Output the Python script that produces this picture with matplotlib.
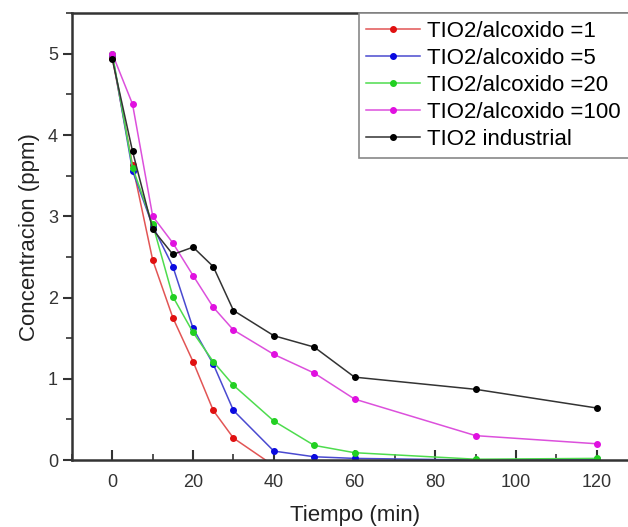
import matplotlib
matplotlib.use("Agg")
import matplotlib.pyplot as plt
import matplotlib.ticker as ticker

plt.rcParams["font.family"] = ["Liberation Sans", "DejaVu Sans"]

t_1 = [0, 5, 10, 15, 20, 25, 30, 40]
c_1 = [4.95, 3.63, 2.46, 1.75, 1.21, 0.61, 0.27, -0.07]

t_5 = [0, 5, 10, 15, 20, 25, 30, 40, 50, 60, 90, 120]
c_5 = [4.99, 3.56, 2.88, 2.38, 1.62, 1.18, 0.61, 0.11, 0.04, 0.02, 0.0, 0.01]

t_20 = [0, 5, 10, 15, 20, 25, 30, 40, 50, 60, 90, 120]
c_20 = [5.0, 3.6, 2.9, 2.01, 1.57, 1.21, 0.92, 0.48, 0.18, 0.09, 0.01, 0.02]

t_100 = [0, 5, 10, 15, 20, 25, 30, 40, 50, 60, 90, 120]
c_100 = [5.0, 4.38, 3.0, 2.67, 2.27, 1.88, 1.60, 1.30, 1.07, 0.75, 0.30, 0.20]

t_ind = [0, 5, 10, 15, 20, 25, 30, 40, 50, 60, 90, 120]
c_ind = [4.93, 3.80, 2.84, 2.53, 2.62, 2.38, 1.84, 1.53, 1.39, 1.02, 0.87, 0.64]

# (x, y, line colour, marker colour, label)
series = [
    (t_1, c_1, "#e25555", "#e01010", "TIO2/alcoxido =1"),
    (t_5, c_5, "#4a4ad0", "#0a0ae0", "TIO2/alcoxido =5"),
    (t_20, c_20, "#4edc4e", "#22d022", "TIO2/alcoxido =20"),
    (t_100, c_100, "#dc50dc", "#e010e0", "TIO2/alcoxido =100"),
    (t_ind, c_ind, "#333333", "#000000", "TIO2 industrial"),
]

fig = plt.figure(figsize=(6.28, 5.27), dpi=100)
ax = fig.add_axes([0.1146, 0.1271, 0.9, 0.848])

for t, c, lcolor, mcolor, label in series:
    ax.plot(t, c, color=lcolor, linewidth=1.1, marker="o", markersize=4,
            markerfacecolor=mcolor, markeredgecolor=mcolor, label=label)

ax.set_xlim(-10, 130)
ax.set_ylim(0, 5.5)

ax.xaxis.set_major_locator(ticker.MultipleLocator(20))
ax.xaxis.set_minor_locator(ticker.MultipleLocator(10))
ax.yaxis.set_major_locator(ticker.MultipleLocator(1))
ax.yaxis.set_minor_locator(ticker.MultipleLocator(0.5))

ax.tick_params(axis="x", which="both", direction="in", labelsize=13,
               colors="#333333", pad=10)
ax.tick_params(axis="x", which="major", length=7, width=1.5)
ax.tick_params(axis="x", which="minor", length=4, width=1.2)
ax.tick_params(axis="y", which="both", direction="out", labelsize=13,
               colors="#333333")
ax.tick_params(axis="y", which="major", length=6.5, width=1.5)
ax.tick_params(axis="y", which="minor", length=4, width=1.2)

for side in ["left", "bottom", "top"]:
    ax.spines[side].set_linewidth(1.8)
    ax.spines[side].set_color("#333333")
ax.spines["right"].set_visible(False)

ax.set_xlabel("Tiempo (min)", fontsize=16, color="#222222", labelpad=10)
ax.set_ylabel("Concentracion (ppm)", fontsize=16, color="#222222", labelpad=6)

legend = ax.legend(loc="upper left", bbox_to_anchor=(0.507, 1.0),
                   borderaxespad=0, fontsize=16, fancybox=False,
                   framealpha=1, handlelength=2.4, handletextpad=0.35,
                   labelspacing=0.27, borderpad=0.35)
legend.get_frame().set_edgecolor("#888888")
legend.get_frame().set_linewidth(1.2)
legend.set_zorder(5)

fig.savefig("out.png", dpi=100)
